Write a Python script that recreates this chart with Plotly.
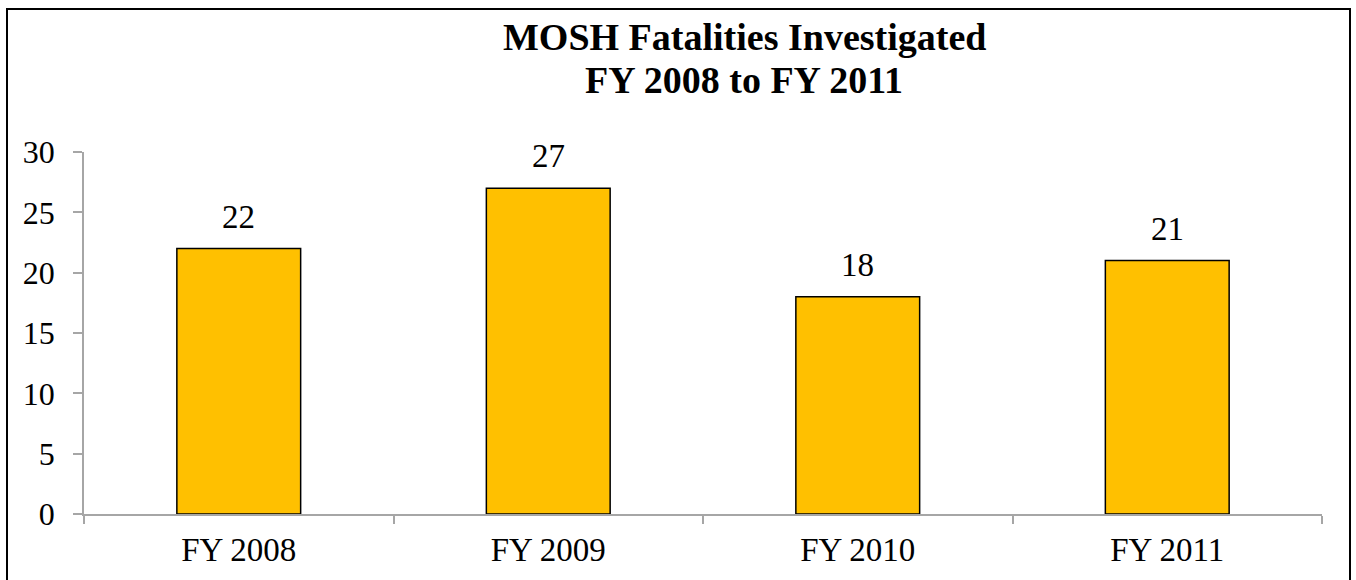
import plotly.graph_objects as go

categories = ["FY 2008", "FY 2009", "FY 2010", "FY 2011"]
values = [22, 27, 18, 21]
title_lines = ["MOSH Fatalities Investigated", "FY 2008 to FY 2011"]
y_ticks = [0, 5, 10, 15, 20, 25, 30]

FONT = "Liberation Serif, Times New Roman, serif"
AXIS_COLOR = "#a6a6a6"

plot_top, plot_bottom = 152, 514
plot_left, plot_right = 84, 1322
ph = plot_bottom - plot_top
pw = plot_right - plot_left


def px_x(x):
    return (x - plot_left) / pw


def px_y(y):
    return (plot_bottom - y) / ph


fig = go.Figure(go.Bar(
    x=categories, y=values, width=0.4,
    marker=dict(color="#FFC000", line=dict(color="#000000", width=1.5)),
    hoverinfo="x+y",
))

annotations = []
for c, v in zip(categories, values):
    annotations.append(dict(x=c, y=v, xref="x", yref="y", text=str(v), showarrow=False,
                            yanchor="bottom", yshift=12,
                            font=dict(family=FONT, size=33, color="#000000")))
for line, yc in zip(title_lines, [37, 80]):
    annotations.append(dict(x=px_x(744), y=px_y(yc), xref="paper", yref="paper",
                            xanchor="center", yanchor="middle",
                            text="<b>%s</b>" % line, showarrow=False,
                            font=dict(family=FONT, size=38, color="#000000")))

fig.update_layout(
    width=1356, height=580,
    margin=dict(l=plot_left, r=1356 - plot_right, t=plot_top, b=580 - plot_bottom),
    paper_bgcolor="white", plot_bgcolor="white",
    showlegend=False,
    font=dict(family=FONT, size=33, color="#000000"),
    annotations=annotations,
    shapes=[dict(type="rect", xref="paper", yref="paper",
                 x0=px_x(7), x1=px_x(1350),
                 y0=px_y(585), y1=px_y(9),
                 line=dict(color="#000000", width=2), fillcolor="rgba(0,0,0,0)", layer="below")],
    xaxis=dict(
        type="category", tickson="boundaries", ticks="outside", ticklen=8,
        tickcolor=AXIS_COLOR, tickwidth=1.5, showline=True, linecolor=AXIS_COLOR, linewidth=1.5,
        showgrid=False, tickfont=dict(family=FONT, size=33), ticklabelstandoff=6,
    ),
    yaxis=dict(
        range=[0, 30], tickvals=y_ticks, ticks="outside", ticklen=9,
        tickcolor=AXIS_COLOR, tickwidth=1.5, showline=True, linecolor=AXIS_COLOR, linewidth=1.5,
        showgrid=False, zeroline=False, tickfont=dict(family=FONT, size=32), ticklabelstandoff=12,
    ),
)

fig.write_html("out.html", config={"displayModeBar": False},
               post_script="document.body.style.margin='0';")
